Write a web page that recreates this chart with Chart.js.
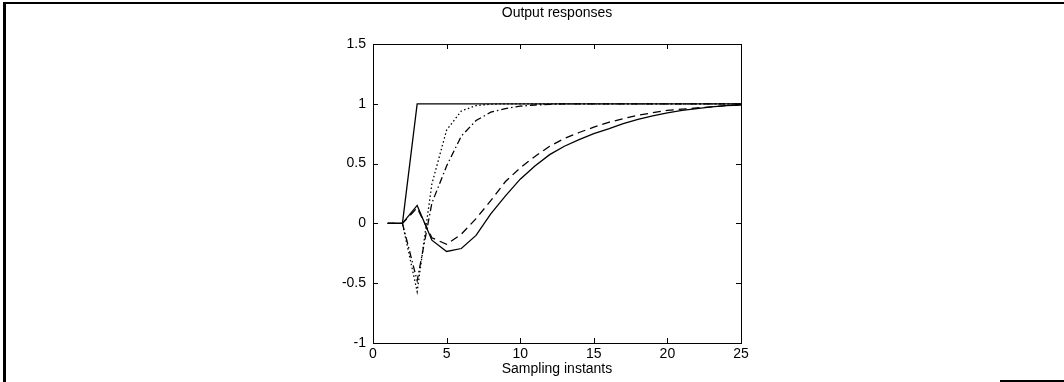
<!DOCTYPE html>
<html>
<head>
<meta charset="utf-8">
<script src="https://cdn.jsdelivr.net/npm/chart.js@4/dist/chart.umd.min.js"></script>
<style>
html,body{margin:0;padding:0;background:#fff;}
#wrap{position:relative;width:1064px;height:382px;overflow:hidden;}
#frameTop{position:absolute;left:3px;top:2px;width:1061px;height:2px;background:#000;}
#frameLeft{position:absolute;left:3px;top:2px;width:3px;height:380px;background:#000;}
#frameBottom{position:absolute;left:1000px;top:380px;width:64px;height:2px;background:#000;}
#c{position:absolute;left:0;top:0;}
</style>
</head>
<body>
<div id="wrap">
<canvas id="c" width="1064" height="382"></canvas>
<div id="frameTop"></div><div id="frameLeft"></div><div id="frameBottom"></div>
</div>
<script>
// ---- data ----
const instants = [1,2,3,4,5,6,7,8,9,10,11,12,13,14,15,16,17,18,19,20,21,22,23,24,25];
const stepRef   = [0,0,1,1,1,1,1,1,1,1,1,1,1,1,1,1,1,1,1,1,1,1,1,1,1];
const dottedResp = [0,0,-0.57,0.33,0.78,0.94,0.985,0.997,1,1,1,1,1,1,1,1,1,1,1,1,1,1,1,1,1];
const dashDotResp = [0,0,-0.48,0.17,0.48,0.73,0.86,0.93,0.96,0.98,0.99,0.995,1,1,1,1,1,1,1,1,1,1,1,1,1];
const solidResp = [0,0,0.15,-0.14,-0.235,-0.21,-0.1,0.08,0.23,0.37,0.48,0.575,0.645,0.70,0.75,0.79,0.835,0.87,0.9,0.925,0.945,0.96,0.975,0.985,0.99];
const dashedResp = [0,0,0.13,-0.12,-0.175,-0.09,0.04,0.19,0.35,0.465,0.56,0.645,0.71,0.76,0.805,0.845,0.875,0.905,0.925,0.945,0.955,0.965,0.975,0.985,0.99];
const xTicks = [0,5,10,15,20,25];
const yTicks = [-1,-0.5,0,0.5,1,1.5];
const titleText = 'Output responses';
const xTitleText = 'Sampling instants';

// ---- layout ----
const AREA = {left: 373, right: 741, top: 44, bottom: 343};
const W = 1064, H = 382;
const FONT = {family: '"Liberation Sans", Arial, Helvetica, sans-serif', size: 14};

function pts(ys){ return instants.map((x,i)=>({x:x, y:ys[i]})); }
function ds(ys, dash){
  return {data: pts(ys), borderColor:'#000', borderWidth:1.3, borderDash:dash,
          pointRadius:0, tension:0, fill:false};
}

const boxTicks = {
  id:'boxTicks',
  afterDraw(chart){
    const {ctx, chartArea:a, scales:{x, y}} = chart;
    ctx.save();
    ctx.strokeStyle = '#000';
    ctx.lineWidth = 1;
    ctx.strokeRect(Math.round(a.left)+0.5, Math.round(a.top)+0.5,
                   Math.round(a.right-a.left), Math.round(a.bottom-a.top));
    const tl = 5;
    ctx.beginPath();
    xTicks.forEach(v=>{
      const px = Math.round(x.getPixelForValue(v))+0.5;
      ctx.moveTo(px, a.bottom); ctx.lineTo(px, a.bottom-tl);
      ctx.moveTo(px, a.top); ctx.lineTo(px, a.top+tl);
    });
    yTicks.forEach(v=>{
      const py = Math.round(y.getPixelForValue(v))+0.5;
      ctx.moveTo(a.left, py); ctx.lineTo(a.left+tl, py);
      ctx.moveTo(a.right, py); ctx.lineTo(a.right-tl, py);
    });
    ctx.stroke();
    ctx.restore();
  }
};

new Chart(document.getElementById('c'), {
  type: 'line',
  data: {
    datasets: [
      ds(stepRef, []),
      ds(dottedResp, [1.5,2.5]),
      ds(dashDotResp, [7,3,1.5,3]),
      ds(solidResp, []),
      ds(dashedResp, [8,5])
    ]
  },
  options: {
    responsive: false,
    animation: false,
    devicePixelRatio: 1,
    layout: {padding: {left: 0, right: W - AREA.right, top: 0, bottom: 0}},
    plugins: {
      legend: {display: false},
      tooltip: {enabled: false},
      title: {
        display: true, text: titleText, fullSize: false, color: '#000',
        font: {family: FONT.family, size: 14, weight: 'normal', lineHeight: 1.2},
        padding: {top: 4.6, bottom: AREA.top - 4.6 - 16.8}
      }
    },
    scales: {
      x: {
        type: 'linear', min: 0, max: 25,
        afterBuildTicks(s){ s.ticks = xTicks.map(v=>({value:v})); },
        afterFit(s){ s.height = H - AREA.bottom; },
        grid: {display: false, drawTicks: false, tickLength: 0},
        border: {display: false},
        ticks: {color:'#000', font: FONT, padding: 3, maxRotation: 0, autoSkip: false,
                callback: v => String(v)},
        title: {display: true, text: xTitleText, color:'#000', font: FONT,
                padding: {top: 0, bottom: 4}}
      },
      y: {
        type: 'linear', min: -1, max: 1.5,
        afterBuildTicks(s){ s.ticks = yTicks.map(v=>({value:v})); },
        afterFit(s){ s.width = AREA.left; },
        grid: {display: false, drawTicks: false, tickLength: 0},
        border: {display: false},
        ticks: {color:'#000', font: FONT, padding: 7, autoSkip: false,
                callback: v => String(v)}
      }
    }
  },
  plugins: [boxTicks]
});
</script>
</body>
</html>
